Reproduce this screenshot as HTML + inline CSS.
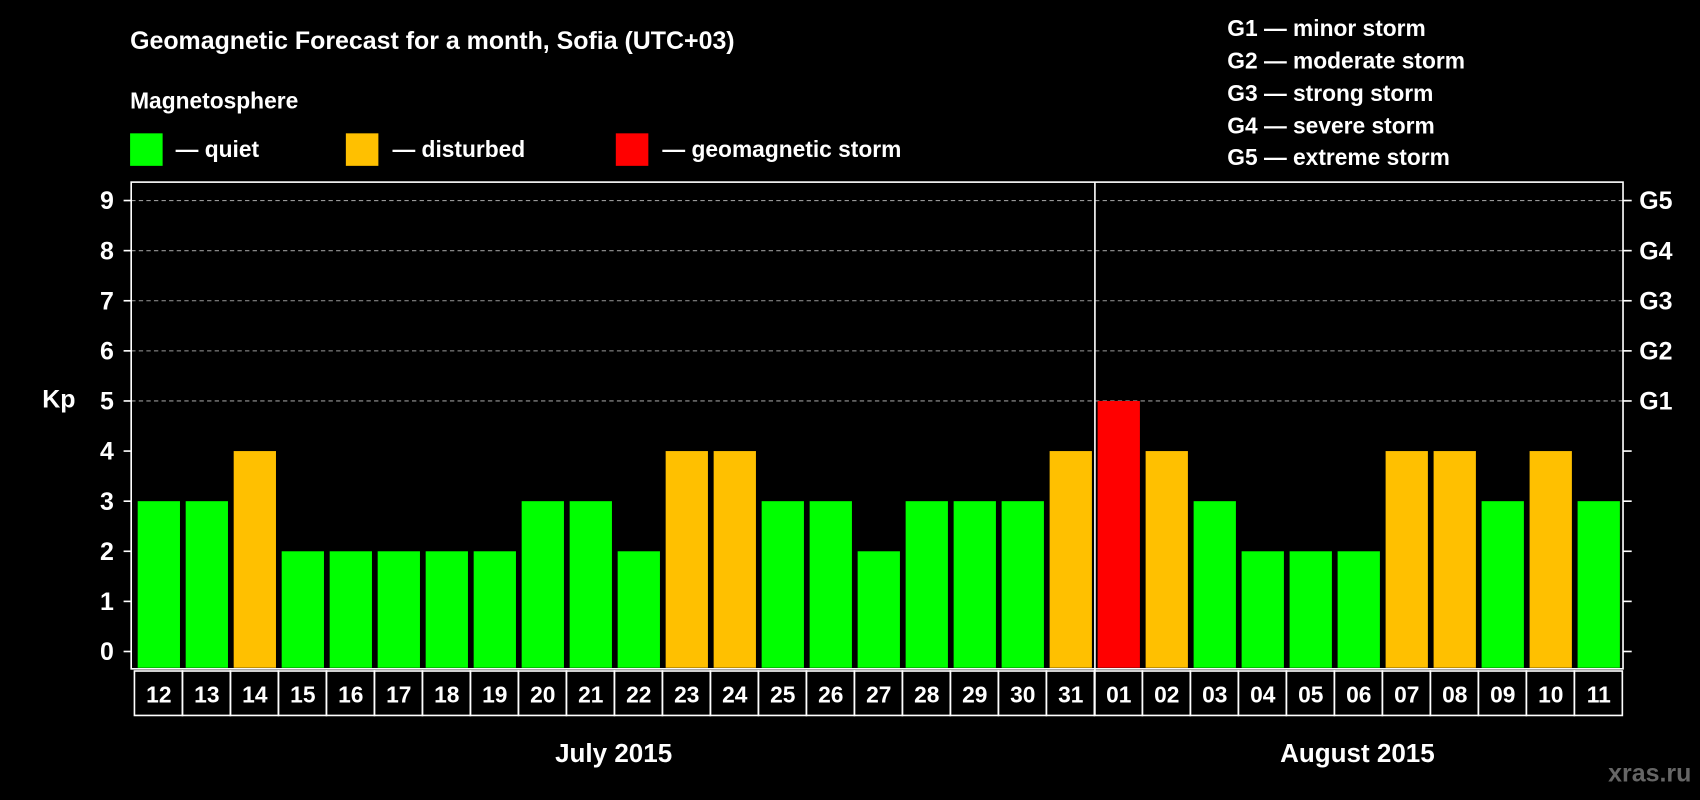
<!DOCTYPE html>
<html><head><meta charset="utf-8"><style>
html,body{margin:0;padding:0;background:#000;}
svg{display:block;font-family:"Liberation Sans",Arial,sans-serif;font-weight:bold;}
</style></head><body>
<svg id="chart" width="1700" height="800" viewBox="0 0 1568 738" preserveAspectRatio="none" xmlns="http://www.w3.org/2000/svg">
<rect width="1568" height="738" fill="#000"/>
<text x="120" y="45" fill="#fff" font-size="23">Geomagnetic Forecast for a month, Sofia (UTC+03)</text>
<text x="120" y="100" fill="#fff" font-size="21">Magnetosphere</text>
<g><rect x="120" y="123" width="30" height="30" fill="#00ff00"/><text x="162" y="145" fill="#fff" font-size="21">— quiet</text></g>
<g><rect x="319" y="123" width="30" height="30" fill="#ffc000"/><text x="362" y="145" fill="#fff" font-size="21">— disturbed</text></g>
<g><rect x="568" y="123" width="30" height="30" fill="#ff0000"/><text x="611" y="145" fill="#fff" font-size="21">— geomagnetic storm</text></g>
<g fill="#fff" font-size="21">
<text x="1132" y="33">G1 — minor storm</text>
<text x="1132" y="63">G2 — moderate storm</text>
<text x="1132" y="93">G3 — strong storm</text>
<text x="1132" y="123">G4 — severe storm</text>
<text x="1132" y="152">G5 — extreme storm</text>
</g>
<text x="39" y="376" fill="#fff" font-size="23">Kp</text>
<g id="grid"></g><g id="bars"></g><g id="axes"></g><g id="xlabels"></g>
<text x="566" y="703" fill="#fff" font-size="24" text-anchor="middle">July 2015</text>
<text x="1252" y="703" fill="#fff" font-size="24" text-anchor="middle">August 2015</text>
<text x="1560" y="721" fill="#666" font-size="23" text-anchor="end">xras.ru</text>
</svg>
<script>
const days = ["12","13","14","15","16","17","18","19","20","21","22","23","24","25","26","27","28","29","30","31","01","02","03","04","05","06","07","08","09","10","11"];
const kp = [3,3,4,2,2,2,2,2,3,3,2,4,4,3,3,2,3,3,3,4,5,4,3,2,2,2,4,4,3,4,3];
const leftTicks = ["0","1","2","3","4","5","6","7","8","9"];
const rightTicks = ["","","","","","G1","G2","G3","G4","G5"];
const NS="http://www.w3.org/2000/svg";
const L=121,R=1497,T=168,B=617,Y0=601,Y9=185,X0=127,PITCH=44.27,BW=39;
const y=v=>Y0-(Y0-Y9)*v/9;
const x=i=>X0+i*PITCH;
function mk(tag,attrs,parent){const e=document.createElementNS(NS,tag);for(const k in attrs)e.setAttribute(k,attrs[k]);document.getElementById(parent).appendChild(e);return e;}
leftTicks.forEach((t,v)=>{
  if(v>=5){const g=mk("line",{x1:L,x2:R,y1:y(v),y2:y(v),stroke:"#999","stroke-dasharray":"4,3","stroke-width":1},"grid");
  
  }
  mk("line",{x1:L-7,x2:L,y1:y(v),y2:y(v),stroke:"#fff","stroke-width":1.5},"axes");
  mk("line",{x1:R,x2:R+8,y1:y(v),y2:y(v),stroke:"#fff","stroke-width":1.5},"axes");
  const lt=mk("text",{x:L-16,y:y(v)+8,fill:"#fff","font-size":23,"text-anchor":"end"},"axes");lt.textContent=t;
  
  
  if(rightTicks[v]){const rt=mk("text",{x:R+15,y:y(v)+8,fill:"#fff","font-size":23},"axes");rt.textContent=rightTicks[v];
  
  }
});
kp.forEach((v,i)=>{
  const col=v>=5?"#ff0000":(v>=4?"#ffc000":"#00ff00");
  const b=mk("rect",{x:x(i),y:y(v),width:BW,height:B-1-y(v),fill:col},"bars");
  
  
  const c=mk("rect",{x:x(i)-3,y:619,width:PITCH,height:41,fill:"none",stroke:"#fff","stroke-width":1.5},"xlabels");
  const t=mk("text",{x:x(i)+BW/2,y:648,fill:"#fff","font-size":21,"text-anchor":"middle"},"xlabels");
  t.textContent=days[i];
  
  
});
mk("rect",{x:L,y:T,width:R-L,height:B-T,fill:"none",stroke:"#fff","stroke-width":1.5},"axes");
const di=days.indexOf("01");
mk("line",{x1:x(di)-2.5,x2:x(di)-2.5,y1:T,y2:660,stroke:"#fff","stroke-width":1.5},"axes");
</script>
</body></html>
